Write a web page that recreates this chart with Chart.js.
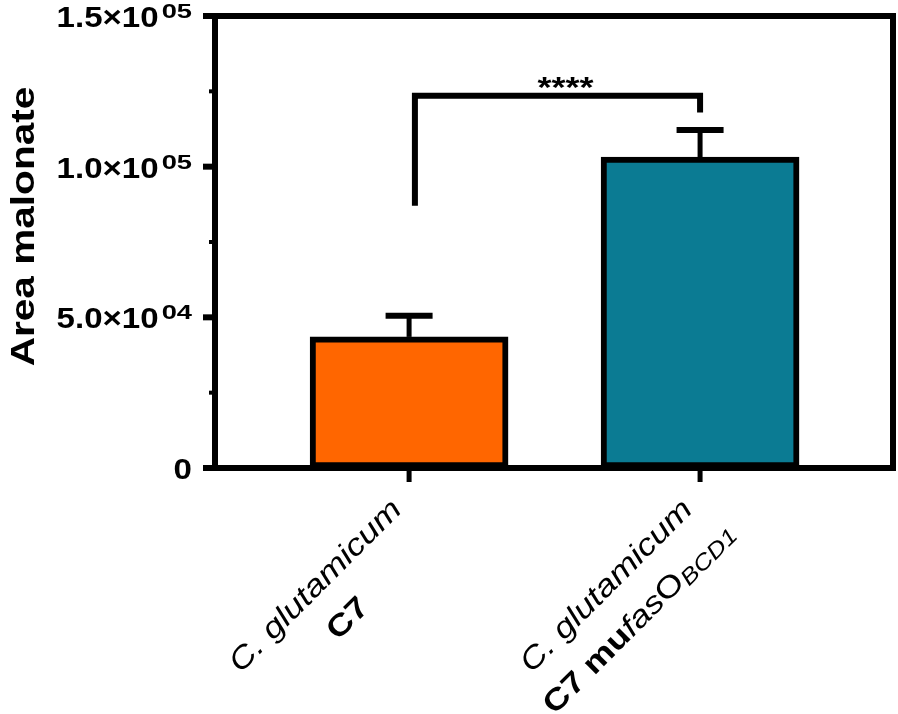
<!DOCTYPE html>
<html>
<head>
<meta charset="utf-8">
<title>Area malonate</title>
<script src="https://cdn.jsdelivr.net/npm/chart.js@4.4.1/dist/chart.umd.min.js"></script>
<style>
  html, body { margin: 0; padding: 0; background: #fff; }
  canvas { display: block; }
</style>
</head>
<body>
<canvas id="malonateChart" width="898" height="714"></canvas>
<script>
// Chart data
const strainPositions = [1, 2];
const meanArea = [43500, 103200];
const errorArea = [7000, 9000];
const barColors = ['#ff6600', '#0b7b93'];

// Tick labels on the y axis (mantissa, exponent)
const yTickValues = [0, 50000, 100000, 150000];
const yTickBase = ['0', '5.0\u00d710', '1.0\u00d710', '1.5\u00d710'];
const yTickExp = ['', '04', '05', '05'];
const yMinorTicks = [25000, 75000, 125000];

// Category labels: [text, style] pieces for each line
const strainLabels = [
  [
    [['C. glutamicum', 'italic']],
    [['C7', 'bold']]
  ],
  [
    [['C. glutamicum', 'italic']],
    [['C7 mu', 'bold'], ['fas', 'italic'], ['O', 'normal'], ['BCD1', 'sub']]
  ]
];

// Significance bracket
const bracketX = [1.02, 2.0];
const bracketLegEnds = [87000, 118000];
const bracketTop = 123500;
const sigLabel = '****';

const FONT = '"Liberation Sans", Arial, sans-serif';

// Helper to draw a line
function line(ctx, x1, y1, x2, y2, w) {
  ctx.beginPath();
  ctx.lineWidth = w;
  ctx.moveTo(x1, y1);
  ctx.lineTo(x2, y2);
  ctx.stroke();
}

function pieceFont(style, size) {
  if (style === 'bold') return 'bold ' + size + 'px ' + FONT;
  if (style === 'italic') return 'italic ' + size + 'px ' + FONT;
  if (style === 'sub') return 'italic ' + Math.round(size * 0.72) + 'px ' + FONT;
  return size + 'px ' + FONT;
}

function lineWidthOf(ctx, pieces, size) {
  let w = 0;
  pieces.forEach(p => {
    ctx.font = pieceFont(p[1], size);
    w += ctx.measureText(p[0]).width;
  });
  return w;
}

function drawPieces(ctx, pieces, x, y, size) {
  let cx = x;
  pieces.forEach(p => {
    ctx.font = pieceFont(p[1], size);
    const dy = p[1] === 'sub' ? 4 : 0;
    ctx.fillText(p[0], cx, y + dy);
    cx += ctx.measureText(p[0]).width;
  });
}

// Plugin that draws axes, error bars and annotations
const decorations = {
  id: 'decorations',
  afterDatasetsDraw(chart) {
    const ctx = chart.ctx;
    const xs = chart.scales.x;
    const ys = chart.scales.y;
    const area = chart.chartArea;
    ctx.save();
    ctx.strokeStyle = '#000';
    ctx.fillStyle = '#000';
    ctx.lineCap = 'butt';

    // error bars (upper only)
    strainPositions.forEach((p, i) => {
      const px = xs.getPixelForValue(p);
      const top = ys.getPixelForValue(meanArea[i]);
      const cap = ys.getPixelForValue(meanArea[i] + errorArea[i]);
      line(ctx, px, top, px, cap, 5);
      line(ctx, px - 23.5, cap, px + 23.5, cap, 6);
    });

    // frame
    const y0 = ys.getPixelForValue(0);
    const yTop = ys.getPixelForValue(150000);
    line(ctx, area.left, y0, area.right + 3, y0, 6);
    line(ctx, area.left, yTop - 3, area.left, y0 + 3, 6);
    line(ctx, area.right, yTop - 3, area.right, y0 + 3, 6);
    line(ctx, area.left - 12, yTop, area.right + 3, yTop, 6);

    // y ticks and labels
    yTickValues.forEach((v, i) => {
      const py = ys.getPixelForValue(v);
      line(ctx, area.left - 12, py, area.left, py, 6);
      ctx.save();
      ctx.textBaseline = 'alphabetic';
      ctx.textAlign = 'left';
      const sx = 1.14;
      ctx.font = 'bold 29px ' + FONT;
      const wb = ctx.measureText(yTickBase[i]).width * sx;
      ctx.font = 'bold 21px ' + FONT;
      const we = yTickExp[i] ? ctx.measureText(yTickExp[i]).width * 1.3 + 3 : 0;
      const startX = 192 - we - wb;
      ctx.translate(startX, py + 11);
      ctx.scale(sx, 1);
      ctx.font = 'bold 29px ' + FONT;
      ctx.fillText(yTickBase[i], 0, 0);
      ctx.restore();
      if (yTickExp[i]) {
        ctx.save();
        ctx.translate(192 - we + 3, py + 2);
        ctx.scale(1.3, 1);
        ctx.font = 'bold 21px ' + FONT;
        ctx.fillText(yTickExp[i], 0, 0);
        ctx.restore();
      }
    });
    yMinorTicks.forEach(v => {
      const py = ys.getPixelForValue(v);
      line(ctx, area.left - 6, py, area.left, py, 4);
    });

    // x ticks and labels
    strainPositions.forEach((p, i) => {
      const px = xs.getPixelForValue(p);
      line(ctx, px, y0, px, y0 + 14, 5);
      const size = 30;
      const sx = 1.2;
      const lines = strainLabels[i];
      const w1 = lineWidthOf(ctx, lines[0], size);
      ctx.save();
      ctx.translate(px - 6, 511);
      ctx.rotate(-Math.PI / 4);
      ctx.scale(sx, 1);
      ctx.textBaseline = 'alphabetic';
      ctx.textAlign = 'left';
      const center = -w1 / 2;
      lines.forEach((pieces, li) => {
        const w = lineWidthOf(ctx, pieces, size);
        drawPieces(ctx, pieces, center - w / 2, li * 46, size);
      });
      ctx.restore();
    });

    // significance bracket
    const bx1 = xs.getPixelForValue(bracketX[0]);
    const bx2 = xs.getPixelForValue(bracketX[1]);
    const by = ys.getPixelForValue(bracketTop);
    ctx.beginPath();
    ctx.lineWidth = 6;
    ctx.lineJoin = 'miter';
    ctx.moveTo(bx1, ys.getPixelForValue(bracketLegEnds[0]));
    ctx.lineTo(bx1, by);
    ctx.lineTo(bx2, by);
    ctx.lineTo(bx2, ys.getPixelForValue(bracketLegEnds[1]));
    ctx.stroke();
    ctx.save();
    ctx.font = 'bold 30px ' + FONT;
    const m = ctx.measureText(sigLabel);
    const gy = (m.actualBoundingBoxAscent - m.actualBoundingBoxDescent) / 2;
    ctx.translate((bx1 + bx2) / 2 + 8, 82.5 + gy);
    ctx.scale(1.2, 1);
    ctx.textAlign = 'center';
    ctx.fillText(sigLabel, 0, 0);
    ctx.restore();

    // y axis title
    ctx.save();
    ctx.translate(34, 226.5);
    ctx.rotate(-Math.PI / 2);
    ctx.scale(1.23, 1);
    ctx.font = 'bold 33px ' + FONT;
    ctx.textAlign = 'center';
    ctx.textBaseline = 'alphabetic';
    ctx.fillText('Area malonate', 0, 0);
    ctx.restore();

    ctx.restore();
  }
};

const ctx = document.getElementById('malonateChart').getContext('2d');
const chart = new Chart(ctx, {
  type: 'bar',
  data: {
    datasets: [{
      data: strainPositions.map((p, i) => ({ x: p, y: meanArea[i] })),
      backgroundColor: barColors,
      borderColor: '#000',
      borderWidth: 6,
      borderSkipped: false,
      barThickness: 198
    }]
  },
  options: {
    responsive: false,
    animation: false,
    layout: { padding: { left: 215, right: 5, top: 16, bottom: 246 } },
    scales: {
      x: { type: 'linear', offset: false, min: 0.333, max: 2.663, display: false },
      y: { min: 0, max: 150000, display: false }
    },
    plugins: {
      legend: { display: false },
      tooltip: { enabled: false }
    }
  },
  plugins: [decorations]
});
</script>
</body>
</html>
